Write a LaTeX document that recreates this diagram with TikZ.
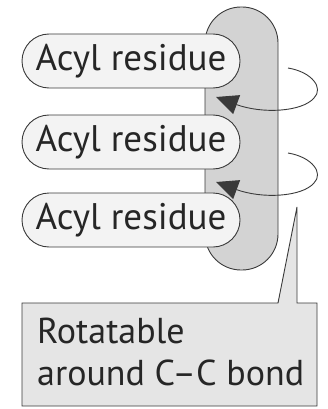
\documentclass[tikz,border=0pt]{standalone}
\usepackage{fontspec}
\setmainfont{PT Sans}
\usetikzlibrary{shapes.misc,arrows.meta}
\definecolor{edge}{HTML}{3A3A3A}
\definecolor{backbone}{HTML}{D3D3D3}
\definecolor{residue}{HTML}{F3F3F3}
\definecolor{notefill}{HTML}{E5E5E5}
\tikzset{
  acyl/.style={rounded rectangle, draw=edge, fill=residue, line width=0.9pt,
    minimum width=218pt, minimum height=54pt, inner sep=0pt,
    font=\fontsize{37}{44}\selectfont, text=black!85},
  spin/.style={draw=edge, line width=0.9pt,
    -{Triangle[length=22pt,width=20pt]}},
  notetext/.style={anchor=base west, inner sep=0pt,
    font=\fontsize{36}{42}\selectfont, text=black!85}
}
\begin{document}
\begin{tikzpicture}[x=1pt,y=-1pt]
\useasboundingbox (0,0) rectangle (328,409);
% glycerol backbone
\draw[draw=edge, fill=backbone, line width=0.9pt, rounded corners=36pt]
  (205,7) rectangle (278,270);
% acyl residues
\node[acyl] (r1) at (131,61) {Acyl residue};
\node[acyl] (r2) at (131,142) {Acyl residue};
\node[acyl] (r3) at (131,220) {Acyl residue};
% rotation arrows
\coordinate (s1) at (288,68);
\coordinate (t1) at (216,97);
\coordinate (s2) at (288,153);
\coordinate (t2) at (216,182);
\draw[spin] (s1) .. controls (312,72) and (324,88) .. (314,98)
  .. controls (302,112) and (262,114) .. (t1);
\draw[spin] (s2) .. controls (312,157) and (324,173) .. (314,183)
  .. controls (302,197) and (262,199) .. (t2);
% callout
\draw[draw=edge, fill=notefill, line width=0.9pt]
  (22,303) -- (278,303) -- (297,207) -- (297,303) -- (317,303)
  -- (317,406) -- (22,406) -- cycle;
\node[notetext] (n1) at (37,343) {Rotatable};
\node[notetext] (n2) at (37,385) {around C–C bond};
\end{tikzpicture}
\end{document}
